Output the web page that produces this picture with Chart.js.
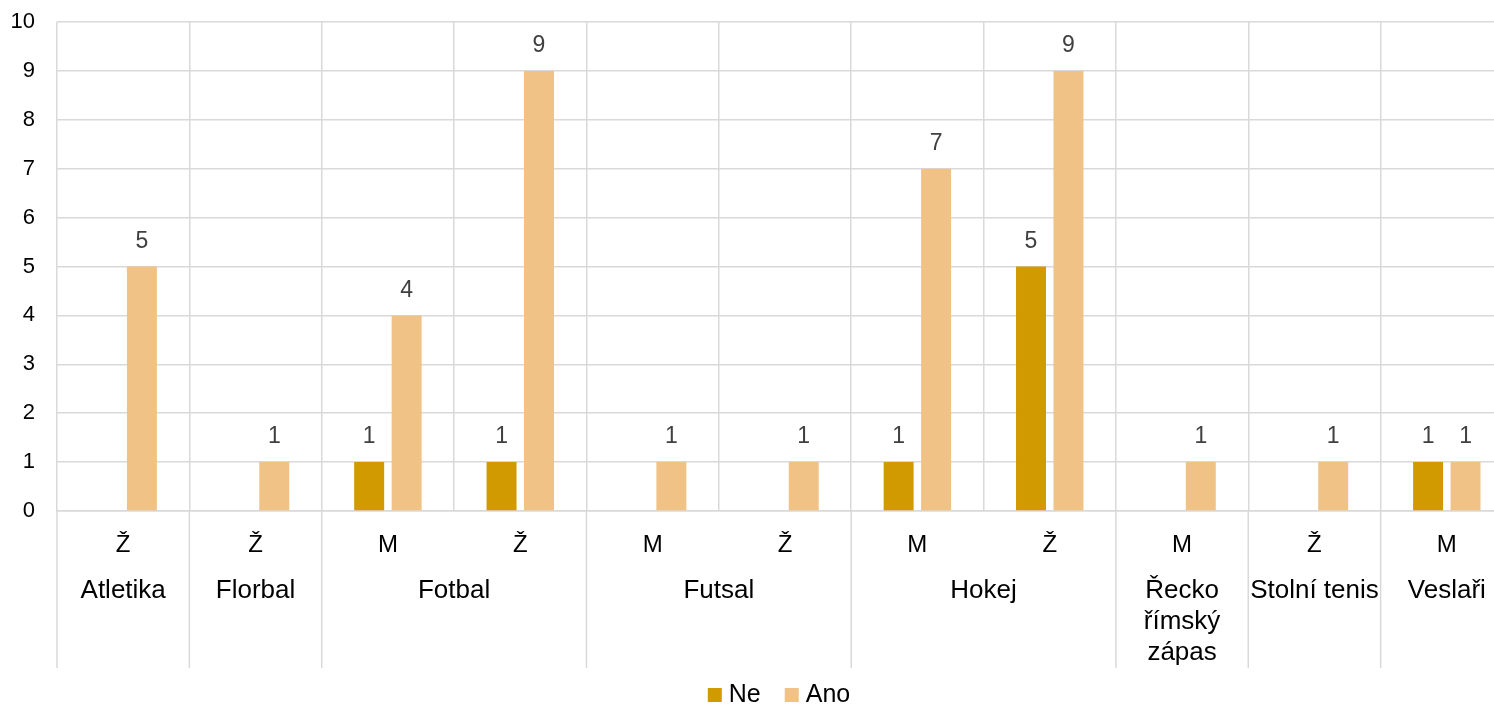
<!DOCTYPE html>
<html>
<head>
<meta charset="utf-8">
<script src="https://cdn.jsdelivr.net/npm/chart.js@4"></script>
<style>
  html, body { margin: 0; padding: 0; background: #fff; overflow: hidden; }
  canvas { display: block; }
</style>
</head>
<body>
<canvas id="barchart" width="1558" height="706"></canvas>
<script>
// pohlaví (spodní úroveň osy) a sport (horní úroveň)
const categories = ['Ž', 'Ž', 'M', 'Ž', 'M', 'Ž', 'M', 'Ž', 'M', 'Ž', 'M'];
const sports = ['Atletika', 'Florbal', 'Fotbal', 'Fotbal', 'Futsal', 'Futsal', 'Hokej', 'Hokej',
                'Řecko římský zápas', 'Stolní tenis', 'Veslaři'];
const neValues = [null, null, 1, 1, null, null, 1, 5, null, null, 1];
const anoValues = [5, 1, 4, 9, 1, 1, 7, 9, 1, 1, 1];
const yTicks = [0, 1, 2, 3, 4, 5, 6, 7, 8, 9, 10];

const FONT = 'Arial, "Liberation Sans", sans-serif';
const GRID = '#d9d9d9';

function wrapText(ctx, text, maxWidth) {
    const words = text.split(' ');
    const lines = [];
    let line = '';
    words.forEach(w => {
        const test = line ? line + ' ' + w : w;
        if (ctx.measureText(test).width > maxWidth && line) {
            lines.push(line);
            line = w;
        } else {
            line = test;
        }
    });
    if (line) lines.push(line);
    return lines;
}

// popisky hodnot, dvouúrovňová osa X a legenda
const extrasPlugin = {
    id: 'extras',
    afterDatasetsDraw(chart) {
        const ctx = chart.ctx;
        const area = chart.chartArea;
        const x = chart.scales.x;

        // hodnoty nad sloupci
        ctx.save();
        ctx.font = '23px ' + FONT;
        ctx.fillStyle = '#404040';
        ctx.textAlign = 'center';
        ctx.textBaseline = 'middle';
        chart.data.datasets.forEach((ds, di) => {
            chart.getDatasetMeta(di).data.forEach((el, i) => {
                const v = ds.data[i];
                if (v === null || v === undefined) return;
                ctx.fillText(String(v), el.x, el.y - 25);
            });
        });
        ctx.restore();

        // spodní úroveň (M / Ž)
        const bottom = 668;
        ctx.save();
        ctx.fillStyle = '#000';
        ctx.textAlign = 'center';
        ctx.textBaseline = 'middle';
        ctx.font = '24px ' + FONT;
        categories.forEach((c, i) => {
            ctx.fillText(c, x.getPixelForValue(i), area.bottom + 34);
        });

        // horní úroveň (sport) + oddělovače skupin
        const half = (x.getPixelForValue(1) - x.getPixelForValue(0)) / 2;
        ctx.font = '26px ' + FONT;
        ctx.strokeStyle = GRID;
        ctx.lineWidth = 1.5;
        let start = 0;
        for (let i = 1; i <= sports.length; i++) {
            if (i === sports.length || sports[i] !== sports[start]) {
                const left = x.getPixelForValue(start) - half;
                const right = x.getPixelForValue(i - 1) + half;
                const lines = wrapText(ctx, sports[start], right - left - 2);
                lines.forEach((ln, k) => {
                    ctx.fillText(ln, (left + right) / 2, area.bottom + 80 + k * 31);
                });
                ctx.beginPath();
                ctx.moveTo(right, area.bottom);
                ctx.lineTo(right, bottom);
                if (start === 0) {
                    ctx.moveTo(left, area.bottom);
                    ctx.lineTo(left, bottom);
                }
                ctx.stroke();
                start = i;
            }
        }

        // legenda
        ctx.font = '25px ' + FONT;
        const items = chart.data.datasets.map(ds => ({ label: ds.label, color: ds.backgroundColor }));
        const box = 14, gapBox = 7, gapItem = 24;
        const widths = items.map(it => box + gapBox + ctx.measureText(it.label).width);
        const total = widths.reduce((a, b) => a + b, 0) + gapItem * (items.length - 1);
        let lx = chart.width / 2 - total / 2;
        const ly = 695;
        ctx.textAlign = 'left';
        items.forEach((it, k) => {
            ctx.fillStyle = it.color;
            ctx.fillRect(lx, ly - box / 2, box, box);
            ctx.fillStyle = '#000';
            ctx.fillText(it.label, lx + box + gapBox, ly);
            lx += widths[k] + gapItem;
        });
        ctx.restore();
    }
};

const ctx = document.getElementById('barchart').getContext('2d');
new Chart(ctx, {
    type: 'bar',
    data: {
        labels: categories,
        datasets: [
            { label: 'Ne', data: neValues, backgroundColor: '#d09a00' },
            { label: 'Ano', data: anoValues, backgroundColor: '#f0c286' }
        ]
    },
    options: {
        responsive: false,
        animation: false,
        devicePixelRatio: 1,
        categoryPercentage: 0.566,
        barPercentage: 0.8,
        layout: { padding: { top: 22, right: 45, left: 0, bottom: 0 } },
        plugins: {
            legend: { display: false },
            tooltip: { enabled: false }
        },
        scales: {
            x: {
                afterFit: s => { s.height = 195; s.paddingLeft = 0; s.paddingRight = 0; },
                ticks: { display: false },
                grid: { color: GRID, lineWidth: 1.5, offset: true, drawTicks: false },
                border: { color: GRID, width: 1.5 }
            },
            y: {
                min: 0,
                max: 10,
                afterFit: s => { s.width = 57; s.paddingTop = 0; s.paddingBottom = 0; },
                afterBuildTicks: s => { s.ticks = yTicks.map(v => ({ value: v })); },
                ticks: { font: { size: 22, family: FONT }, color: '#000', padding: 22 },
                grid: { color: GRID, lineWidth: 1.5, drawTicks: false },
                border: { display: false }
            }
        }
    },
    plugins: [extrasPlugin]
});
</script>
</body>
</html>
